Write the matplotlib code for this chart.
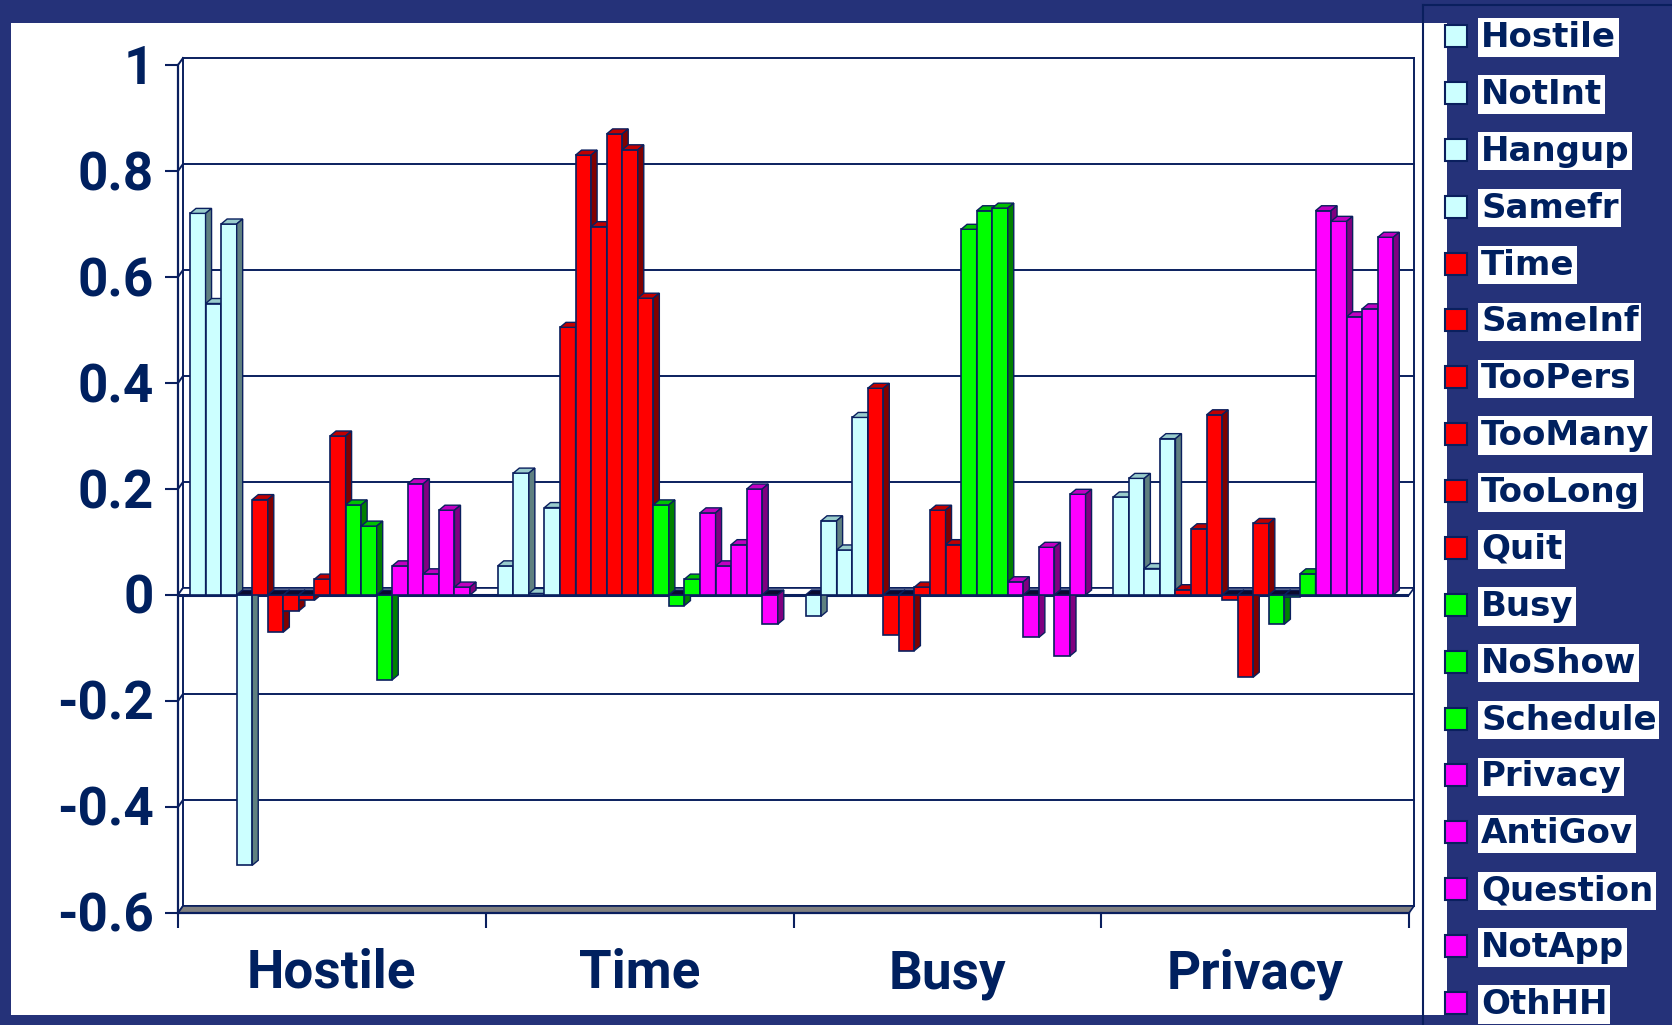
import numpy as np
import matplotlib
matplotlib.use("Agg")
import matplotlib.pyplot as plt
from matplotlib.patches import Polygon, Rectangle

# ========= DATOS =========
grupos = ["Hostile", "Time", "Busy", "Privacy"]

series = ["Hostile", "NotInt", "Hangup", "Samefr",
          "Time", "SameInf", "TooPers", "TooMany", "TooLong", "Quit",
          "Busy", "NoShow", "Schedule",
          "Privacy", "AntiGov", "Question", "NotApp", "OthHH"]

familia = ["cian", "cian", "cian", "cian",
           "rojo", "rojo", "rojo", "rojo", "rojo", "rojo",
           "verde", "verde", "verde",
           "magenta", "magenta", "magenta", "magenta", "magenta"]

# one value per series, in series order
val_hostile = [0.72, 0.55, 0.70, -0.51,
               0.18, -0.07, -0.03, -0.01, 0.03, 0.30,
               0.17, 0.13, -0.16,
               0.055, 0.21, 0.04, 0.16, 0.015]
val_time = [0.055, 0.23, 0.003, 0.165,
            0.505, 0.83, 0.695, 0.87, 0.84, 0.56,
            0.17, -0.02, 0.03,
            0.155, 0.055, 0.095, 0.20, -0.055]
val_busy = [-0.04, 0.14, 0.085, 0.335,
            0.39, -0.075, -0.105, 0.015, 0.16, 0.095,
            0.69, 0.725, 0.73,
            0.025, -0.08, 0.09, -0.115, 0.19]
val_privacy = [0.185, 0.22, 0.05, 0.295,
               0.01, 0.125, 0.34, -0.01, -0.155, 0.135,
               -0.055, -0.003, 0.04,
               0.725, 0.705, 0.525, 0.54, 0.675]

yticks = [1, 0.8, 0.6, 0.4, 0.2, 0, -0.2, -0.4, -0.6]
ytick_labels = ["1", "0.8", "0.6", "0.4", "0.2", "0", "-0.2", "-0.4", "-0.6"]

# ========= ESTILO =========
W, H, DPI = 1672, 1025, 100
FONDO = "#253279"
TINTA = "#00205f"
BORDE = "#0a1f5e"
caras = {  # front, side, top
    "cian": ("#ccffff", "#5f8080", "#99cccc"),
    "rojo": ("#ff0000", "#800000", "#c00000"),
    "verde": ("#00ff00", "#008000", "#00c000"),
    "magenta": ("#ff00ff", "#800080", "#c000c0"),
}
FUENTE_EJES = ["Roboto", "DejaVu Sans"]
FUENTE_LEY = "DejaVu Sans"
PT = 72 / DPI  # pixels -> points


def fx(px):
    return px / W


def fy(py):
    return 1 - py / H


fig = plt.figure(figsize=(W / DPI, H / DPI), dpi=DPI, facecolor=FONDO)

# white chart area inside the navy frame, navy legend panel on the right
fig.patches.append(Rectangle((fx(11), fy(1015)), fx(1447) - fx(11), fy(23) - fy(1015),
                             transform=fig.transFigure, facecolor="white",
                             edgecolor="none", zorder=-2))
fig.patches.append(Rectangle((fx(1447), 0), 1 - fx(1447), fy(23),
                             transform=fig.transFigure, facecolor=FONDO,
                             edgecolor="none", zorder=-1))

# front face of the plot (axis lines)
izq, der, arr, aba = 178, 1409, 65, 913
ax = fig.add_axes([fx(izq), fy(aba), (der - izq) / W, (aba - arr) / H])
ax.set_facecolor("none")
ax.set_xlim(0, 4)
ax.set_ylim(-0.6, 1)

px_x = (der - izq) / 4
px_y = (aba - arr) / 1.6
pared_dx, pared_dy = 5 / px_x, 7 / px_y
barra_dx, barra_dy = 6 / px_x, 5 / px_y

# back wall: gridlines and diagonal joints
for y in yticks:
    ax.plot([pared_dx, 4 + pared_dx], [y + pared_dy] * 2, color=BORDE, lw=1.4,
            clip_on=False, zorder=1)
    ax.plot([0, pared_dx], [y, y + pared_dy], color=BORDE, lw=1.4,
            clip_on=False, zorder=1)
for x in [pared_dx, 4 + pared_dx]:
    ax.plot([x, x], [-0.6 + pared_dy, 1 + pared_dy], color=BORDE, lw=1.4,
            clip_on=False, zorder=1)

# floor slab and zero plane
ax.add_patch(Polygon([(0, -0.6), (4, -0.6), (4 + pared_dx, -0.6 + pared_dy),
                      (pared_dx, -0.6 + pared_dy)], closed=True,
                     facecolor="#808080", edgecolor=BORDE, lw=1.2,
                     clip_on=False, zorder=1.5))
ax.add_patch(Polygon([(0, 0), (4, 0), (4 + pared_dx, pared_dy), (pared_dx, pared_dy)],
                     closed=True, facecolor="white", edgecolor=BORDE, lw=1.2,
                     clip_on=False, zorder=1.5))
ax.plot([0, 4], [0, 0], color=BORDE, lw=2.2, zorder=1.6)

# ========= BARRAS 3D =========
tabla = np.array([val_hostile, val_time, val_busy, val_privacy])
ancho = 0.91 / len(series)
inicio = 0.039

for k, nombre in enumerate(series):
    frente, lado, tope = caras[familia[k]]
    xs = np.arange(len(grupos)) + inicio + k * ancho
    vals = tabla[:, k]
    rects = ax.bar(xs, vals, width=ancho, align="edge", color=frente,
                   edgecolor=BORDE, linewidth=1.2, zorder=3)
    for r, v in zip(rects, vals):
        x0 = r.get_x()
        x1 = x0 + r.get_width()
        alto = max(v, 0)
        # top face (dark lid at zero for negative bars)
        ax.add_patch(Polygon([(x0, alto), (x0 + barra_dx, alto + barra_dy),
                              (x1 + barra_dx, alto + barra_dy), (x1, alto)],
                             closed=True, facecolor=tope if v > 0 else "#0a0a30",
                             edgecolor=BORDE, lw=1.0, clip_on=False, zorder=3))
        # right side face
        ax.add_patch(Polygon([(x1, v), (x1 + barra_dx, v + barra_dy),
                              (x1 + barra_dx, barra_dy), (x1, 0)],
                             closed=True, facecolor=lado, edgecolor=BORDE,
                             lw=1.0, clip_on=False, zorder=3))

# ========= EJES =========
for lado_spine in ["top", "right"]:
    ax.spines[lado_spine].set_visible(False)
for lado_spine in ["left", "bottom"]:
    ax.spines[lado_spine].set_color(BORDE)
    ax.spines[lado_spine].set_linewidth(1.6)
    ax.spines[lado_spine].set_zorder(4)

ax.set_yticks(yticks)
ax.set_xticks(range(len(grupos) + 1))
ax.tick_params(axis="y", direction="out", length=13 * PT, width=1.5, color=BORDE,
               labelleft=False)
ax.tick_params(axis="x", direction="out", length=15 * PT, width=1.5, color=BORDE,
               labelbottom=False)

for y, etiqueta in zip(yticks, ytick_labels):
    ax.annotate(etiqueta, xy=(0, y), xycoords=("axes fraction", "data"),
                xytext=(-24 * PT, -19 * PT), textcoords="offset points",
                ha="right", va="baseline", fontsize=53 * PT, fontweight="bold",
                family=FUENTE_EJES, color=TINTA, annotation_clip=False)

for i, g in enumerate(grupos):
    ax.annotate(g, xy=(i + 0.5, 0), xycoords=("data", "axes fraction"),
                xytext=(0, -75 * PT), textcoords="offset points",
                ha="center", va="baseline", fontsize=53 * PT, fontweight="bold",
                family=FUENTE_EJES, color=TINTA, annotation_clip=False)

# ========= LEYENDA =========
fig.lines.append(plt.Line2D([fx(1423), fx(1423)], [fy(5), fy(1025)],
                            transform=fig.transFigure, color=BORDE, lw=1.5))
fig.lines.append(plt.Line2D([fx(1423), 1], [fy(5), fy(5)],
                            transform=fig.transFigure, color=BORDE, lw=1.5))

paso = (1003 - 36) / (len(series) - 1)
for k, nombre in enumerate(series):
    yc = 36 + k * paso
    fig.patches.append(Rectangle((fx(1445), fy(yc + 11)), 22 / W, 22 / H,
                                 transform=fig.transFigure,
                                 facecolor=caras[familia[k]][0],
                                 edgecolor=BORDE, lw=1.5, zorder=2))
    fig.text(fx(1481), fy(yc + 11), nombre, ha="left", va="baseline",
             fontsize=34 * PT, fontweight="bold", family=FUENTE_LEY, color=TINTA,
             bbox=dict(boxstyle="square,pad=0.08", facecolor="white",
                       edgecolor="none"), zorder=2)

fig.savefig("out.png", dpi=DPI, facecolor=FONDO)
